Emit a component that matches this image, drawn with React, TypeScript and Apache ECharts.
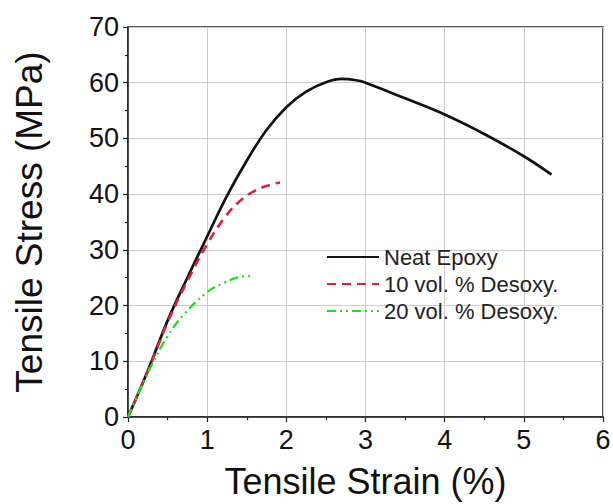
import React, { useEffect, useRef } from "react";
import * as echarts from "echarts";

const neatStrain = [0, 0.25, 0.5, 0.75, 1.0, 1.25, 1.5, 1.75, 2.0, 2.25, 2.5, 2.7, 2.9, 3.0, 3.5, 4.0, 4.5, 5.0, 5.35];
const neatStress = [0, 8.3, 17.3, 25.0, 32.4, 39.7, 46.0, 51.5, 55.6, 58.4, 60.1, 60.7, 60.4, 60.0, 57.2, 54.3, 50.8, 46.8, 43.5];

const desoxy10Strain = [0, 0.25, 0.5, 0.75, 1.0, 1.2, 1.4, 1.6, 1.8, 1.92];
const desoxy10Stress = [0, 8.2, 17.0, 24.4, 31.0, 35.4, 38.6, 40.6, 41.7, 42.1];

const desoxy20Strain = [0, 0.25, 0.5, 0.7, 1.0, 1.2, 1.4, 1.54];
const desoxy20Stress = [0, 7.9, 14.5, 18.3, 22.4, 24.0, 25.1, 25.3];

const seriesNames = ["Neat Epoxy", "10 vol. % Desoxy.", "20 vol. % Desoxy."];

const zip = (xs: number[], ys: number[]) => xs.map((x, i) => [x, ys[i]]);

export default function App() {
  const ref = useRef<HTMLDivElement>(null);
  useEffect(() => {
    if (!ref.current) return;
    const chart = echarts.init(ref.current, null, { renderer: "svg" });
    const font = "Liberation Sans, Arial, sans-serif";
    chart.setOption({
      animation: false,
      backgroundColor: "#ffffff",
      grid: {
        left: 128,
        right: 10,
        top: 27,
        bottom: 87,
        show: true,
        borderColor: "#222",
        borderWidth: 1.5,
        containLabel: false,
        outerBoundsMode: "none",
      },
      legend: {
        orient: "vertical",
        left: 321,
        top: 241,
        itemWidth: 52,
        itemHeight: 14,
        itemGap: 5,
        itemStyle: { opacity: 0 },
        textStyle: { fontFamily: font, fontSize: 22, color: "#222" },
        data: seriesNames,
      },
      xAxis: {
        type: "value",
        min: 0,
        max: 6,
        interval: 1,
        name: "Tensile Strain (%)",
        nameLocation: "middle",
        nameGap: 45,
        nameTextStyle: { fontFamily: font, fontSize: 36, color: "#111", lineHeight: 38 },
        axisLine: { show: true, lineStyle: { color: "#222", width: 1.5 } },
        axisTick: { show: true, length: 5, inside: false, lineStyle: { color: "#222", width: 1.2 } },
        minorTick: { show: true, splitNumber: 2, length: 3, lineStyle: { color: "#222", width: 1.2 } },
        axisLabel: { fontFamily: font, fontSize: 27, color: "#111", margin: 9 },
        splitLine: { show: true, lineStyle: { color: "#cccccc", width: 1 } },
      },
      yAxis: {
        type: "value",
        min: 0,
        max: 70,
        interval: 10,
        name: "Tensile Stress (MPa)",
        nameLocation: "middle",
        nameGap: 80,
        nameTextStyle: { fontFamily: font, fontSize: 37, color: "#111" },
        axisLine: { show: true, lineStyle: { color: "#222", width: 1.5 } },
        axisTick: { show: true, length: 5, inside: false, lineStyle: { color: "#222", width: 1.2 } },
        minorTick: { show: true, splitNumber: 2, length: 3, lineStyle: { color: "#222", width: 1.2 } },
        axisLabel: { fontFamily: font, fontSize: 27, color: "#111", margin: 9 },
        splitLine: { show: true, lineStyle: { color: "#cccccc", width: 1 } },
      },
      series: [
        {
          name: seriesNames[0],
          type: "line",
          data: zip(neatStrain, neatStress),
          smooth: 0.4,
          showSymbol: false,
          symbol: "none",
          lineStyle: { color: "#111111", width: 2.7, type: "solid" },
          itemStyle: { color: "#111111" },
          z: 3,
        },
        {
          name: seriesNames[1],
          type: "line",
          data: zip(desoxy10Strain, desoxy10Stress),
          smooth: 0.4,
          showSymbol: false,
          symbol: "none",
          lineStyle: { color: "#e0203f", width: 2.6, type: [9, 6] },
          itemStyle: { color: "#e0203f" },
          z: 4,
        },
        {
          name: seriesNames[2],
          type: "line",
          data: zip(desoxy20Strain, desoxy20Stress),
          smooth: 0.4,
          showSymbol: false,
          symbol: "none",
          lineStyle: { color: "#22dd22", width: 2.3, type: [9, 4, 2, 4, 2, 4] },
          itemStyle: { color: "#22dd22" },
          z: 5,
        },
      ],
    });
    return () => chart.dispose();
  }, []);
  return <div ref={ref} style={{ width: 613, height: 504, position: "absolute", left: 0, top: 0 }} />;
}
